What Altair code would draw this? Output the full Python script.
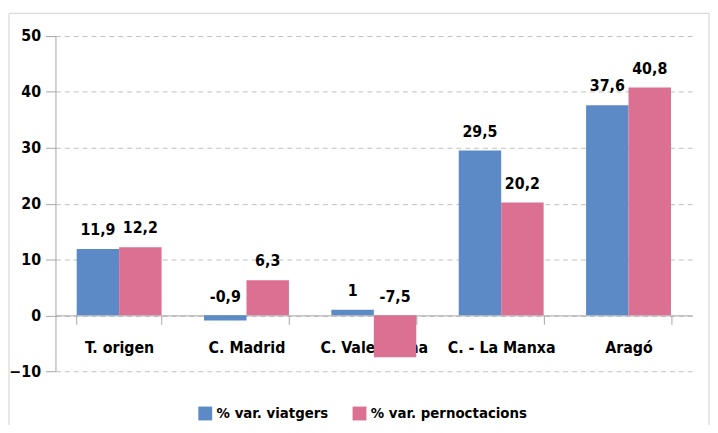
import altair as alt
import pandas as pd

categories = ["T. origen", "C. Madrid", "C. Valenciana", "C. - La Manxa", "Aragó"]
series = ["% var. viatgers", "% var. pernoctacions"]
viatgers = [11.9, -0.9, 1.0, 29.5, 37.6]
pernoctacions = [12.2, 6.3, -7.5, 20.2, 40.8]
y_ticks = [-10, 0, 10, 20, 30, 40, 50]
colors = ["#5B8AC7", "#DB7093"]

rows = []
for i, c in enumerate(categories):
    for s, vals in zip(series, [viatgers, pernoctacions]):
        v = vals[i]
        rows.append({"cat": c, "series": s, "value": v,
                     "labelY": max(v, 0.0),
                     "label": f"{v:g}".replace(".", ",")})
df = pd.DataFrame(rows)

FONT = "DejaVu Sans Condensed"
W, H = 644, 339
zero_offset = -H * 10 / 60

xscale = alt.Scale(paddingInner=1 / 3, paddingOuter=1 / 6)
yscale = alt.Scale(domain=[-10, 50], nice=False)

base = alt.Chart(df)

bars = base.mark_bar().encode(
    x=alt.X("cat:N", sort=categories, scale=xscale,
            axis=alt.Axis(title=None, labelAngle=0, offset=zero_offset,
                          tickBand="extent", grid=False,
                          domainColor="#A6A6A6", tickColor="#A6A6A6",
                          tickSize=9, labelPadding=16,
                          labelFont=FONT, labelFontSize=16,
                          labelFontWeight="bold", labelColor="black")),
    xOffset=alt.XOffset("series:N", sort=series),
    y=alt.Y("value:Q", scale=yscale,
            axis=alt.Axis(title=None, values=y_ticks, grid=True,
                          gridDash=[5, 4], gridColor="#BFBFBF",
                          domainColor="#A6A6A6", tickColor="#A6A6A6",
                          tickSize=10, labelPadding=5,
                          labelFont=FONT, labelFontSize=16,
                          labelFontWeight="bold", labelColor="black")),
    color=alt.Color("series:N", sort=series,
                    scale=alt.Scale(domain=series, range=colors),
                    legend=alt.Legend(title=None, orient="none",
                                      direction="horizontal",
                                      legendX=144, legendY=374,
                                      symbolType="square", symbolSize=196,
                                      symbolStrokeWidth=0,
                                      labelFont=FONT, labelFontSize=15,
                                      labelFontWeight="bold",
                                      labelColor="black", labelLimit=400,
                                      columnPadding=24)),
)

labels = base.mark_text(font=FONT, fontSize=16, fontWeight="bold",
                        color="black", baseline="alphabetic", dy=-14).encode(
    x=alt.X("cat:N", sort=categories, scale=xscale),
    xOffset=alt.XOffset("series:N", sort=series),
    y=alt.Y("labelY:Q", scale=yscale),
    text="label:N",
)

border = alt.Chart(pd.DataFrame({"a": [0]})).mark_rect(
    fill="transparent", stroke="#D0D0D0", strokeWidth=1).encode(
    x=alt.value(-47), x2=alt.value(661), y=alt.value(-23), y2=alt.value(400))

chart = alt.layer(border, bars, labels).properties(
    width=W, height=H,
    autosize=alt.AutoSizeParams(type="none"),
    padding={"left": 48, "top": 26, "right": 18, "bottom": 52},
).configure_view(stroke=None)

chart.save("out.html", embed_options={"renderer": "svg", "actions": False})
